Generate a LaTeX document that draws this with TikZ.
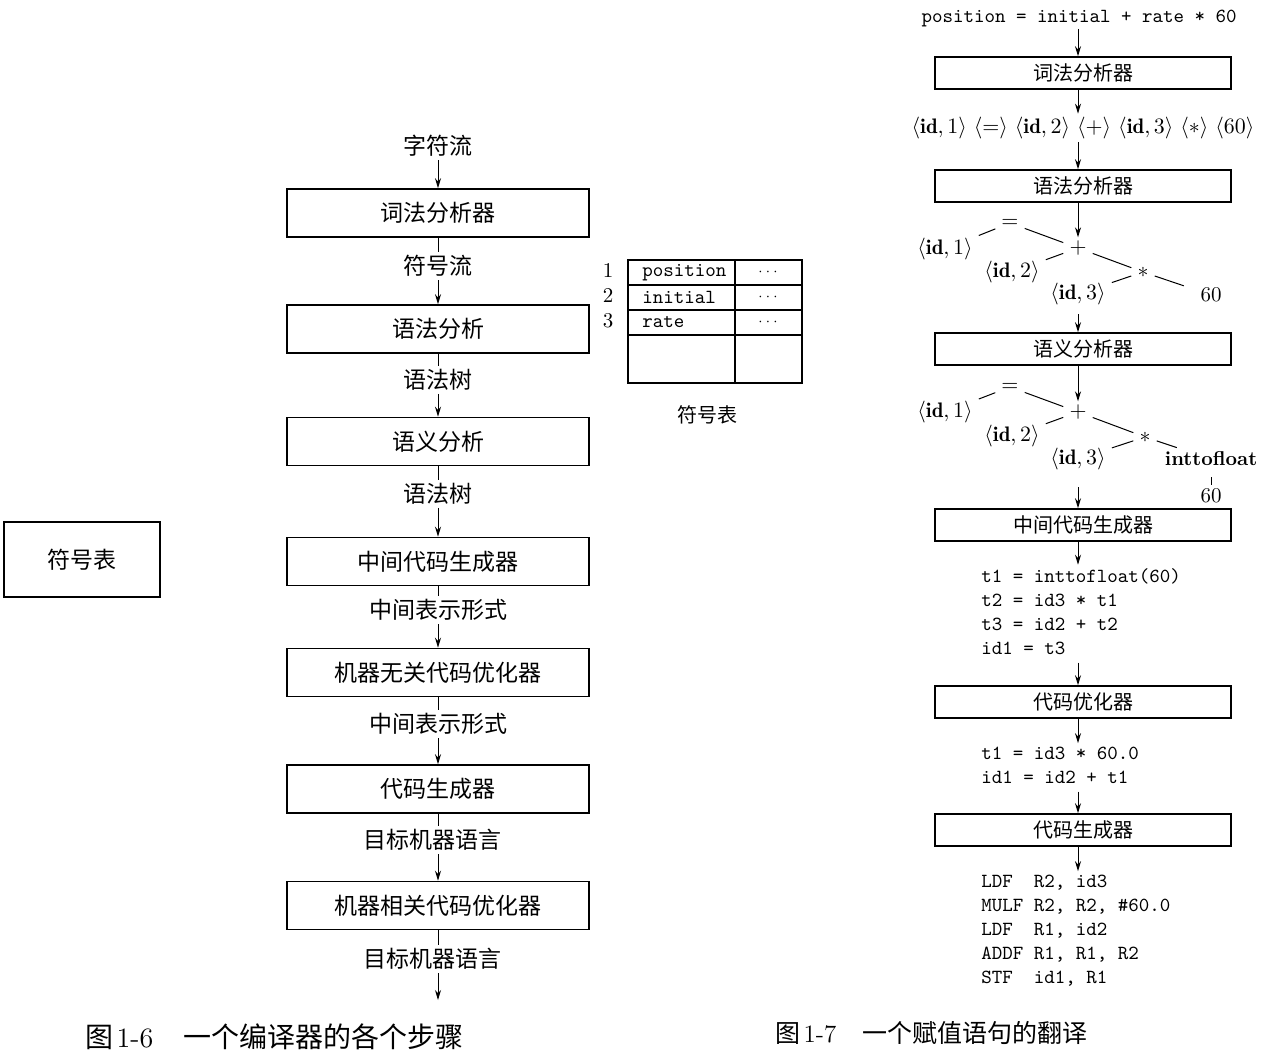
\documentclass[tikz,border=0pt]{standalone}
\usepackage{fontspec}
\newfontfamily\cjk{Noto Sans CJK SC}
\usetikzlibrary{arrows.meta}
\tikzset{
  lbox/.style={draw, line width=0.8pt, minimum width=151pt, minimum height=24pt, inner sep=0pt, font=\cjk\fontsize{11.5}{13}\selectfont},
  llab/.style={inner sep=1.5pt, font=\cjk\fontsize{11.5}{13}\selectfont},
  rbox/.style={draw, line width=0.8pt, minimum width=148pt, minimum height=16pt, inner sep=0pt, font=\cjk\fontsize{10}{12}\selectfont},
  arr/.style={-{Stealth[length=5pt,width=3pt]}, line width=0.5pt},
  ln/.style={line width=0.5pt},
  ttx/.style={inner sep=1pt, font=\ttfamily\fontsize{10}{12}\selectfont},
  codeln/.style={anchor=base west, inner sep=0pt, font=\ttfamily\fontsize{10}{12}\selectfont},
  tn/.style={inner sep=1.5pt, font=\fontsize{10.5}{12}\selectfont},
  tl/.style={line width=0.5pt, shorten <=1.5pt, shorten >=1.5pt},
  tabline/.style={line width=0.6pt},
  figcap/.style={anchor=west, inner sep=0pt}
}
\begin{document}
\begin{tikzpicture}[x=0.5pt,y=-0.5pt]
\useasboundingbox (0,0) rectangle (1262,1062);

% ---------------- left column ----------------
\node[llab] (l1) at (438,146) {字符流};
\node[lbox] (b1) at (438,213) {词法分析器};
\node[llab] (l2) at (438,266) {符号流};
\node[lbox] (b2) at (438,329) {语法分析};
\node[llab] (l3) at (438,380) {语法树};
\node[lbox] (b3) at (438,441.5) {语义分析};
\node[llab] (l4) at (438,494) {语法树};
\node[lbox] (b4) at (438,561.5) {中间代码生成器};
\node[llab] (l5) at (438,610) {中间表示形式};
\node[lbox] (b5) at (438,672.5) {机器无关代码优化器};
\node[llab] (l6) at (438,724) {中间表示形式};
\node[lbox] (b6) at (438,789) {代码生成器};
\node[llab] (l7) at (432,840) {目标机器语言};
\node[lbox] (b7) at (438,905.5) {机器相关代码优化器};
\node[llab] (l8) at (432,959) {目标机器语言};
\coordinate (lend) at (438,1000);

\draw[arr] (l1.south -| b1) -- (b1);
\draw[ln] (b1) -- (l2);
\draw[arr] (l2) -- (b2);
\draw[ln] (b2) -- (l3);
\draw[arr] (l3) -- (b3);
\draw[ln] (b3) -- (l4);
\draw[arr] (l4) -- (b4);
\draw[ln] (b4) -- (l5);
\draw[arr] (l5) -- (b5);
\draw[ln] (b5) -- (l6);
\draw[arr] (l6) -- (b6);
\draw[ln] (b6.south) -- (b6.south |- l7.north);
\draw[arr] (b7.north |- l7.south) -- (b7.north);
\draw[ln] (b7.south) -- (b7.south |- l8.north);
\draw[arr] (lend |- l8.south) -- (lend);

\node[lbox, minimum width=78pt, minimum height=37.5pt] (symL) at (82,559.5) {符号表};

\node[figcap] (cap1) at (85,1037) {{\cjk\fontsize{14}{16}\selectfont 图}\,{\fontsize{14}{16}\selectfont 1-6}\hspace{15pt}{\cjk\fontsize{14}{16}\selectfont 一个编译器的各个步骤}};

% ---------------- symbol table ----------------
\draw[tabline] (628,260) rectangle (802,383);
\draw[tabline] (628,285) -- (802,285);
\draw[tabline] (628,310) -- (802,310);
\draw[tabline] (628,335) -- (802,335);
\draw[tabline] (735,260) -- (735,383);
\node[tn] (n1) at (608,270) {1};
\node[tn] (n2) at (608,295) {2};
\node[tn] (n3) at (608,321) {3};
\node[ttx, anchor=west] (s1) at (640,272.5) {position};
\node[ttx, anchor=west] (s2) at (640,297.5) {initial};
\node[ttx, anchor=west] (s3) at (640,322.5) {rate};
\node[tn, font=\fontsize{7}{8}\selectfont] (d1) at (768,272) {$\cdots$};
\node[tn, font=\fontsize{7}{8}\selectfont] (d2) at (768,297) {$\cdots$};
\node[tn, font=\fontsize{7}{8}\selectfont] (d3) at (768,322) {$\cdots$};
\node[llab, font=\cjk\fontsize{10}{12}\selectfont] (symlab) at (707,415) {符号表};

% ---------------- right column ----------------
\node[ttx] (src) at (1079,18) {position = initial + rate * 60};
\node[rbox] (r1) at (1083,73) {词法分析器};
\node[tn] (tok) at (1083,128) {$\langle\mathbf{id},1\rangle\ \langle=\rangle\ \langle\mathbf{id},2\rangle\ \langle+\rangle\ \langle\mathbf{id},3\rangle\ \langle*\rangle\ \langle60\rangle$};
\node[rbox] (r2) at (1083,186) {语法分析器};

% tree 1
\node[tn] (eqA) at (1010,223) {$=$};
\node[tn] (idA1) at (945,249) {$\langle\mathbf{id},1\rangle$};
\node[tn] (plA) at (1078,248) {$+$};
\node[tn] (idA2) at (1012,272) {$\langle\mathbf{id},2\rangle$};
\node[tn] (stA) at (1143,272) {$*$};
\node[tn] (idA3) at (1078,294) {$\langle\mathbf{id},3\rangle$};
\node[tn] (sxA) at (1211,295) {60};
\draw[tl] (eqA) -- (idA1);
\draw[tl] (eqA) -- (plA);
\draw[tl] (plA) -- (idA2);
\draw[tl] (plA) -- (stA);
\draw[tl] (stA) -- (idA3);
\draw[tl, shorten >=7pt] (stA) -- (sxA);

\node[rbox] (r3) at (1083,349) {语义分析器};

% tree 2
\node[tn] (eqB) at (1010,387) {$=$};
\node[tn] (idB1) at (945,412) {$\langle\mathbf{id},1\rangle$};
\node[tn] (plB) at (1078,412) {$+$};
\node[tn] (idB2) at (1012,436) {$\langle\mathbf{id},2\rangle$};
\node[tn] (stB) at (1145,437) {$*$};
\node[tn] (idB3) at (1078,459) {$\langle\mathbf{id},3\rangle$};
\node[tn, font=\fontsize{10}{12}\selectfont] (itf) at (1211,459) {\textbf{inttofloat}};
\node[tn] (sxB) at (1211,496) {60};
\draw[tl] (eqB) -- (idB1);
\draw[tl] (eqB) -- (plB);
\draw[tl] (plB) -- (idB2);
\draw[tl] (plB) -- (stB);
\draw[tl] (stB) -- (idB3);
\draw[tl] (stB) -- (itf);
\draw[line width=0.5pt] (itf.south) ++(0,8) coordinate (itfl) -- (itfl |- sxB.north);

\node[rbox] (r4) at (1083,525) {中间代码生成器};
\node[codeln] (c1a) at (981,582) {t1 = inttofloat(60)};
\node[codeln] (c1b) at (981,606) {t2 = id3 * t1};
\node[codeln] (c1c) at (981,630) {t3 = id2 + t2};
\node[codeln] (c1d) at (981,654) {id1 = t3};

\node[rbox] (r5) at (1083,702) {代码优化器};
\node[codeln] (c2a) at (981,759) {t1 = id3 * 60.0};
\node[codeln] (c2b) at (981,783) {id1 = id2 + t1};

\node[rbox] (r6) at (1083,830) {代码生成器};
\node[codeln] (c3a) at (981,887) {LDF\ \ R2, id3};
\node[codeln] (c3b) at (981,911) {MULF R2, R2, \#60.0};
\node[codeln] (c3c) at (981,935) {LDF\ \ R1, id2};
\node[codeln] (c3d) at (981,959) {ADDF R1, R1, R2};
\node[codeln] (c3e) at (981,983) {STF\ \ id1, R1};

\node[figcap] (cap2) at (775,1033) {{\cjk\fontsize{12.5}{14}\selectfont 图}\,{\fontsize{12.5}{14}\selectfont 1-7}\hspace{13pt}{\cjk\fontsize{12.5}{14}\selectfont 一个赋值语句的翻译}};

% right arrows
\coordinate (ax) at (1078,0);
\draw[arr] (src.south -| ax) -- (r1.north -| ax);
\draw[arr] (r1.south -| ax) -- (tok.north -| ax);
\draw[arr] (tok.south -| ax) -- (r2.north -| ax);
\draw[arr] (r2.south -| ax) -- (plA.north);
\draw[arr, shorten <=3pt] (idA3.south) -- (r3.north -| ax);
\draw[arr] (r3.south -| ax) -- (plB.north);
\draw[arr, shorten <=7pt] (idB3.south) -- (r4.north -| ax);
\draw[arr] (r4.south -| ax) -- ([yshift=1.5pt]c1a.north -| ax);
\draw[arr, shorten <=4pt] (c1d.south -| ax) -- (r5.north -| ax);
\draw[arr] (r5.south -| ax) -- ([yshift=1.5pt]c2a.north -| ax);
\draw[arr, shorten <=4pt] (c2b.south -| ax) -- (r6.north -| ax);
\draw[arr] (r6.south -| ax) -- ([yshift=1.5pt]c3a.north -| ax);
\end{tikzpicture}
\end{document}
